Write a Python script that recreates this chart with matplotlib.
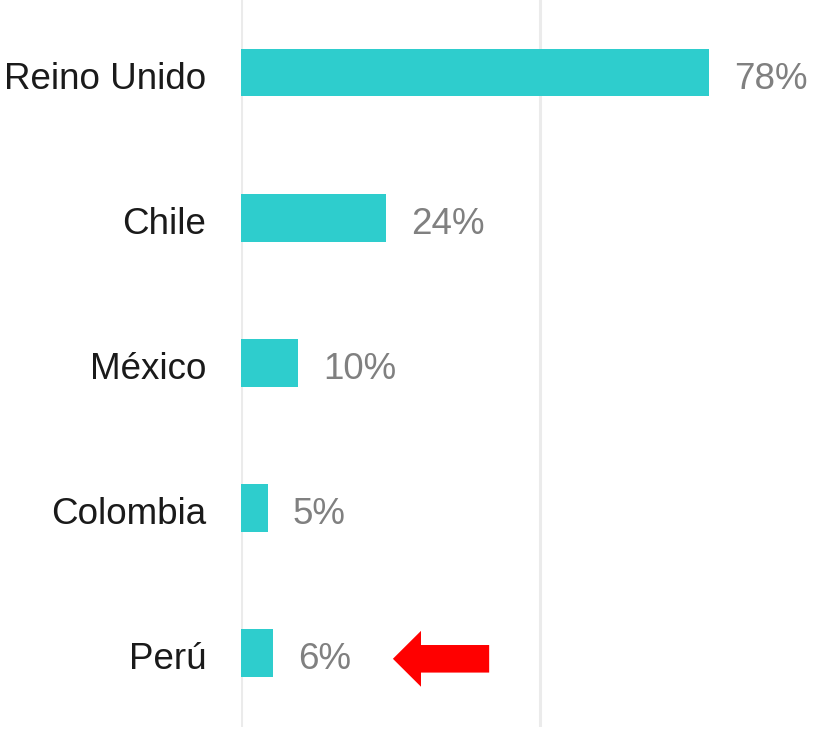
import matplotlib
matplotlib.use('Agg')
import matplotlib.pyplot as plt
from matplotlib.patches import FancyArrow
import numpy as np

plt.rcParams.update({
    'font.family': ['Liberation Sans', 'DejaVu Sans'],
})

# data, top to bottom
countries = ['Reino Unido', 'Chile', 'México', 'Colombia', 'Perú']
values = [78.2, 24.2, 9.5, 4.5, 5.3]
value_labels = ['78%', '24%', '10%', '5%', '6%']
highlight = 'Perú'

bar_color = '#2ecdcd'
grid_color = '#ebebeb'
fs = 26.5

fig = plt.figure(figsize=(8.39, 7.32), dpi=100)
ax = fig.add_axes([241 / 839, 5 / 732, 598 / 839, 727 / 732])

y = np.arange(len(countries))
ax.barh(y, values, height=0.33, color=bar_color, zorder=2)

ax.set_xlim(0, 100)
ax.set_ylim(len(countries) - 0.5 + 0.01, -0.5)

for xv in (0, 50):
    ax.axvline(xv, color=grid_color, lw=2.2, zorder=1)

ax.set_yticks([])
ax.set_xticks([])
for s in ax.spines.values():
    s.set_visible(False)

# category labels, baseline a bit below bar centre
for yi, name in zip(y, countries):
    ax.annotate(name, (0, yi), xytext=(-25, -11.5), textcoords='offset points',
                va='baseline', ha='right', fontsize=fs, color='#1a1a1a')

for yi, v, lab in zip(y, values, value_labels):
    ax.annotate(lab, (v, yi), xytext=(18, -11.5), textcoords='offset points',
                va='baseline', ha='left', fontsize=fs, color='#808080')

# red arrow pointing at the highlighted bar label
hy = countries.index(highlight) + 0.04
ax.add_patch(FancyArrow(41.5, hy, -16.1, 0, width=0.19, head_width=0.385,
                        head_length=4.7, length_includes_head=True,
                        color='#ff0000', lw=0, zorder=3))

fig.savefig('out.png', dpi=100, facecolor='white')
